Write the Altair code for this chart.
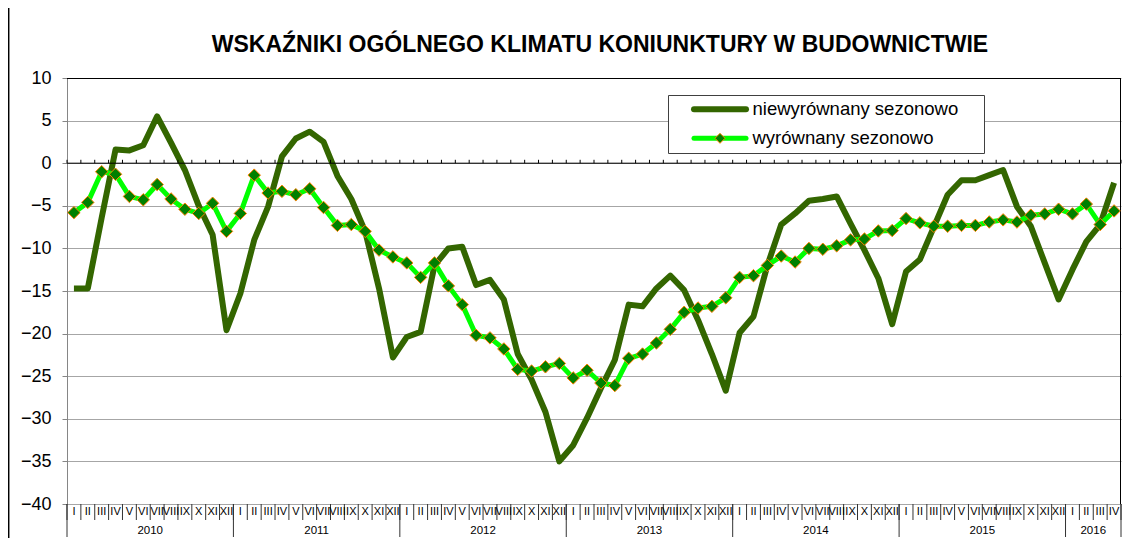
import altair as alt
import pandas as pd

# ---------------- data ----------------
months = ["I", "II", "III", "IV", "V", "VI", "VII", "VIII", "IX", "X", "XI", "XII"]
years = [2010, 2011, 2012, 2013, 2014, 2015, 2016]

unadjusted = [
    -14.7, -14.7, -6.4, 1.6, 1.5, 2.1, 5.5, 2.4, -0.8, -5.0, -8.4, -19.6,
    -15.3, -9.0, -5.1, 0.8, 2.9, 3.7, 2.5, -1.5, -4.2, -8.0, -14.7, -22.8,
    -20.4, -19.8, -12.0, -10.0, -9.8, -14.3, -13.7, -16.0, -22.4, -25.4, -29.2, -35.0,
    -33.1, -29.9, -26.4, -23.1, -16.6, -16.8, -14.7, -13.2, -14.9, -18.4, -22.4, -26.7,
    -19.9, -18.0, -12.0, -7.2, -5.9, -4.4, -4.2, -3.9, -7.1, -10.2, -13.5, -18.9,
    -12.7, -11.3, -7.5, -3.7, -2.0, -2.0, -1.4, -0.8, -5.1, -7.4, -11.7, -16.0,
    -12.5, -9.2, -7.2, -2.3,
]
adjusted = [
    -5.8, -4.6, -1.0, -1.3, -3.9, -4.3, -2.5, -4.2, -5.4, -5.9, -4.7, -8.0,
    -5.9, -1.4, -3.5, -3.3, -3.7, -3.0, -5.2, -7.3, -7.2, -8.0, -10.2, -11.0,
    -11.7, -13.4, -11.7, -14.4, -16.6, -20.2, -20.5, -21.8, -24.2, -24.4, -23.9, -23.5,
    -25.2, -24.3, -25.8, -26.1, -22.9, -22.4, -21.1, -19.5, -17.5, -17.0, -16.8, -15.8,
    -13.4, -13.2, -12.0, -10.9, -11.6, -10.0, -10.1, -9.7, -9.0, -8.9, -7.95, -7.9,
    -6.5, -7.0, -7.4, -7.4, -7.3, -7.3, -6.9, -6.65, -6.9, -6.1, -5.95, -5.4,
    -5.95, -4.8, -7.2, -5.6,
]
series_names = ["niewyrównany sezonowo", "wyrównany sezonowo"]
title_text = "WSKAŹNIKI OGÓLNEGO KLIMATU KONIUNKTURY W BUDOWNICTWIE"
y_ticks = [-40, -35, -30, -25, -20, -15, -10, -5, 0, 5, 10]

# ---------------- tables ----------------
n = len(unadjusted)
idx = list(range(n))
df = pd.DataFrame({
    "i": idx,
    "m": [months[k % 12] for k in idx],
    "u": unadjusted,
    "a": adjusted,
})
bounds = pd.DataFrame({"b": [k - 0.5 for k in range(n + 1)]})
year_starts = [k - 0.5 for k in range(0, n, 12)] + [n - 0.5]
ybounds = pd.DataFrame({"b": year_starts})
year_df = pd.DataFrame({
    "y": [str(y) for y in years],
    "c": [(year_starts[j] + year_starts[j + 1]) / 2 for j in range(len(years))],
})
one = pd.DataFrame({"k": [0]})

# ---------------- layout ----------------
W, H = 1054, 426
FONT = "Liberation Sans"
DARK = "#336600"
LIGHT = "#00ff00"
MFILL = "#008000"
MSTROKE = "#ff8000"

xs = alt.Scale(domain=[-0.5, n - 0.5], nice=False, zero=False)
ys = alt.Scale(domain=[-40, 10], nice=False, zero=False)
YAX = alt.Axis(values=y_ticks, grid=True, gridColor="#a6a6a6", gridWidth=1,
               domainColor="#868686", domainWidth=1, tickColor="#868686",
               tickSize=5, labelFontSize=18, labelFont=FONT, labelColor="#000000",
               labelPadding=11, labelFlush=False, labelOverlap=False, title=None)


def X(f):
    return alt.X(f, type="quantitative", scale=xs, axis=None)


def Y(f):
    return alt.Y(f, type="quantitative", scale=ys, axis=YAX)


dark_line = alt.Chart(df).mark_line(color=DARK, strokeWidth=6, strokeJoin="round").encode(
    x=X("i"), y=Y("u"))
light_line = alt.Chart(df).mark_line(color=LIGHT, strokeWidth=5, strokeJoin="round").encode(
    x=X("i"), y=Y("a"))
light_pts = alt.Chart(df).mark_point(shape="diamond", filled=True, fill=MFILL, stroke=MSTROKE,
                                     strokeWidth=1, size=155, opacity=1).encode(
    x=X("i"), y=Y("a"))

zero_line = alt.Chart(one).mark_rule(color="#000000", strokeWidth=1).encode(
    x=alt.value(0), x2=alt.value(W), y=alt.Y(datum=0, type="quantitative", scale=ys, axis=YAX))
zero_ticks = alt.Chart(bounds).mark_rule(color="#000000", strokeWidth=1).encode(
    x=X("b"), y=alt.Y(datum=0, type="quantitative", scale=ys, axis=YAX), y2=alt.Y2(datum=0.4))
top_border = alt.Chart(one).mark_rule(color="#000000", strokeWidth=1).encode(
    x=alt.value(0), x2=alt.value(W), y=alt.value(0.5))
right_border = alt.Chart(one).mark_rule(color="#000000", strokeWidth=1).encode(
    x=alt.value(W - 0.5), y=alt.value(0), y2=alt.value(H))

month_sep = alt.Chart(bounds).mark_rule(color="#333333", strokeWidth=1).encode(
    x=X("b"), y=alt.value(H), y2=alt.value(H + 16))
year_sep = alt.Chart(ybounds).mark_rule(color="#333333", strokeWidth=1).encode(
    x=X("b"), y=alt.value(H), y2=alt.value(H + 33))
month_txt = alt.Chart(df).mark_text(font=FONT, fontSize=11, baseline="middle", align="center",
                                    color="#000000").encode(
    x=X("i"), y=alt.value(H + 8.3), text="m:N")
year_txt = alt.Chart(year_df).mark_text(font=FONT, fontSize=11.5, baseline="middle", align="center",
                                        color="#000000").encode(
    x=X("c"), y=alt.value(H + 26.8), text="y:N")

# legend
leg_box = alt.Chart(one).mark_rect(fill="#ffffff", stroke="#404040", strokeWidth=1).encode(
    x=alt.value(601.5), x2=alt.value(917.5), y=alt.value(17.5), y2=alt.value(75.5))
leg_l1 = alt.Chart(one).mark_rule(color=DARK, strokeWidth=6, strokeCap="round").encode(
    x=alt.value(627), x2=alt.value(679), y=alt.value(31.3))
leg_l2 = alt.Chart(one).mark_rule(color=LIGHT, strokeWidth=5, strokeCap="round").encode(
    x=alt.value(627), x2=alt.value(679), y=alt.value(60.3))
leg_pt = alt.Chart(one).mark_point(shape="diamond", filled=True, fill=MFILL, stroke=MSTROKE,
                                   strokeWidth=1, size=100, opacity=1).encode(
    x=alt.value(653), y=alt.value(60.3))
leg_t1 = alt.Chart(one).mark_text(text=series_names[0], font=FONT, fontSize=18.5, align="left",
                                  baseline="middle", color="#000000").encode(
    x=alt.value(685.5), y=alt.value(31.3))
leg_t2 = alt.Chart(one).mark_text(text=series_names[1], font=FONT, fontSize=18.5, align="left",
                                  baseline="middle", color="#000000").encode(
    x=alt.value(685.5), y=alt.value(60.3))

title = alt.Chart(one).mark_text(text=title_text, font=FONT, fontWeight="bold", fontSize=23,
                                 align="center", baseline="middle", color="#000000").encode(
    x=alt.value(600 - 67), y=alt.value(45 - 78))

frame = alt.Chart(one).mark_rule(color="#000000", strokeWidth=1.5).encode(
    x=alt.value(-58.3), y=alt.value(-78), y2=alt.value(H + 40))

chart = alt.layer(
    dark_line, zero_ticks, zero_line, top_border, right_border,
    month_sep, year_sep, month_txt, year_txt, frame,
    light_line, light_pts, title,
    leg_box, leg_l1, leg_l2, leg_pt, leg_t1, leg_t2,
).properties(
    width=W, height=H,
    autosize=alt.AutoSizeParams(type="none"),
    padding={"left": 59, "top": 70, "right": 2, "bottom": 34},
).configure_view(stroke=None)

chart.save("out.html", embed_options={"renderer": "svg", "actions": False})
